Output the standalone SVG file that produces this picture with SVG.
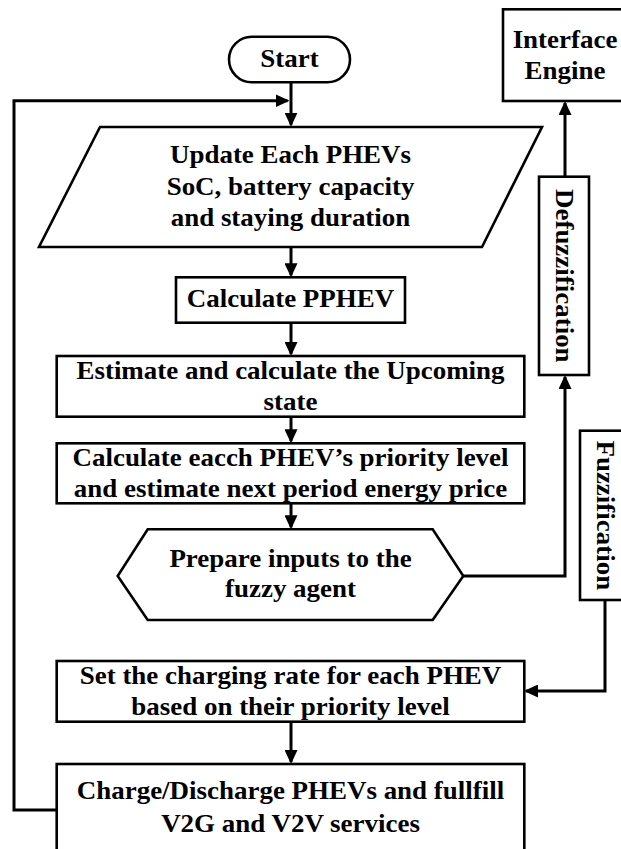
<svg xmlns="http://www.w3.org/2000/svg" width="621" height="849" viewBox="0 0 621 849">
<style>
.box{fill:#fff;stroke:#000;stroke-width:2.6;stroke-linejoin:miter}
.con{fill:none;stroke:#000;stroke-width:3;stroke-linejoin:miter}
.t{font-family:"Liberation Serif","Times New Roman",serif;font-weight:bold;font-size:24.5px;fill:#000;text-anchor:middle}
</style>
<defs>
<marker id="ah" markerUnits="userSpaceOnUse" markerWidth="15" markerHeight="13" refX="12" refY="6.5" orient="auto">
<path d="M0,0 L14,6.5 L0,13 z" fill="#000"/>
</marker>
</defs>
<rect width="621" height="849" fill="#fff"/>
<g id="connectors">
<path class="con" d="M291,82 V124.7" marker-end="url(#ah)"/>
<path class="con" d="M57,810 H14 V100.7 H287.5" marker-end="url(#ah)"/>
<path class="con" d="M291,247 V275.3" marker-end="url(#ah)"/>
<path class="con" d="M291,323 V354" marker-end="url(#ah)"/>
<path class="con" d="M291,417 V441.3" marker-end="url(#ah)"/>
<path class="con" d="M291,503 V527.3" marker-end="url(#ah)"/>
<path class="con" d="M463,576 H565 V377" marker-end="url(#ah)"/>
<path class="con" d="M565,176 V103" marker-end="url(#ah)"/>
<path class="con" d="M605,600 V691 H526" marker-end="url(#ah)"/>
<path class="con" d="M291,722 V762" marker-end="url(#ah)"/>
</g>
<g id="start">
<rect class="box" x="229" y="36.7" width="121" height="45.6" rx="22.8"/>
<text class="t" transform="translate(289.5,67) scale(1.1,1)">Start</text>
</g>
<g id="interface-engine">
<rect class="box" x="503" y="9.3" width="125" height="91.7"/>
<text class="t" transform="translate(565,47.7) scale(1.1,1)">Interface</text>
<text class="t" transform="translate(565,79) scale(1.1,1)">Engine</text>
</g>
<g id="update">
<polygon class="box" points="100,127 542,127 482,247 39,247"/>
<text class="t" transform="translate(290.5,163) scale(1.1,1)">Update Each PHEVs</text>
<text class="t" transform="translate(290.5,195) scale(1.1,1)">SoC, battery capacity</text>
<text class="t" transform="translate(290.5,226) scale(1.1,1)">and staying duration</text>
</g>
<g id="calc-pphev">
<rect class="box" x="176" y="277.3" width="229" height="45.4"/>
<text class="t" transform="translate(290.5,307) scale(1.1,1)">Calculate PPHEV</text>
</g>
<g id="estimate">
<rect class="box" x="56.7" y="356" width="467.6" height="60.7"/>
<text class="t" transform="translate(290.5,379) scale(1.1,1)">Estimate and calculate the Upcoming</text>
<text class="t" transform="translate(290.5,410) scale(1.1,1)">state</text>
</g>
<g id="priority">
<rect class="box" x="56.7" y="443.3" width="467.6" height="60"/>
<text class="t" transform="translate(290.5,465.7) scale(1.1,1)">Calculate eacch PHEV’s priority level</text>
<text class="t" transform="translate(290.5,497.3) scale(1.1,1)">and estimate next period energy price</text>
</g>
<g id="prepare">
<polygon class="box" points="147.7,529.3 432.7,529.3 463.3,576 432.7,620 147.7,620 117.7,576"/>
<text class="t" transform="translate(290.5,567.3) scale(1.1,1)">Prepare inputs to the</text>
<text class="t" transform="translate(290.5,597.3) scale(1.1,1)">fuzzy agent</text>
</g>
<g id="defuzzification">
<rect class="box" x="539" y="176.7" width="50" height="198.3"/>
<text class="t" transform="translate(564,275.8) rotate(90) scale(1.1,1)" y="8">Defuzzification</text>
</g>
<g id="fuzzification">
<rect class="box" x="580" y="430.7" width="50" height="169.3"/>
<text class="t" transform="translate(605,515.3) rotate(90) scale(1.1,1)" y="8">Fuzzification</text>
</g>
<g id="set-rate">
<rect class="box" x="56.7" y="661" width="467.6" height="60.7"/>
<text class="t" transform="translate(290.5,684) scale(1.1,1)">Set the charging rate for each PHEV</text>
<text class="t" transform="translate(290.5,715) scale(1.1,1)">based on their priority level</text>
</g>
<g id="charge">
<rect class="box" x="56.7" y="764" width="467.6" height="100"/>
<text class="t" transform="translate(290.5,799) scale(1.1,1)">Charge/Discharge PHEVs and fullfill</text>
<text class="t" transform="translate(290.5,831.7) scale(1.1,1)">V2G and V2V services</text>
</g>
</svg>
